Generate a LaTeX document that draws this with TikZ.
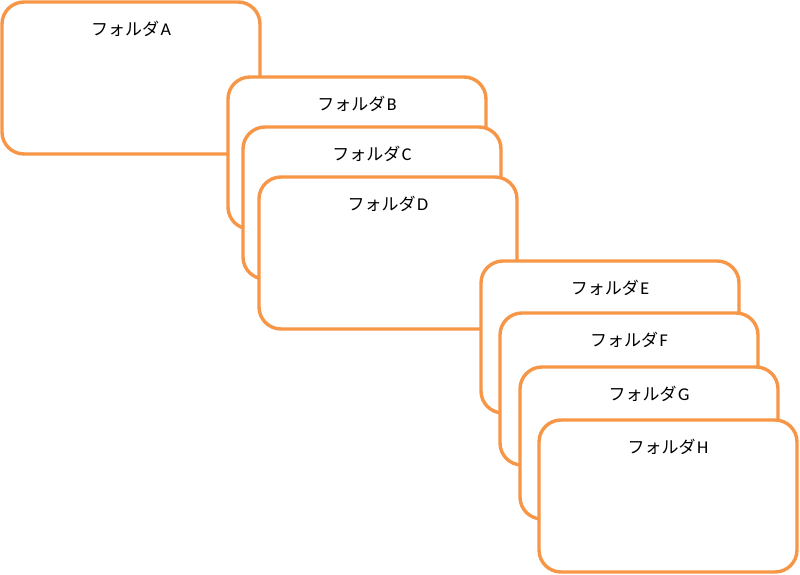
\documentclass[tikz,border=0pt]{standalone}
\usepackage{fontspec}
\setmainfont{Noto Sans CJK JP}
\newfontfamily\latf{Carlito}
\definecolor{folderorange}{HTML}{F79646}
\tikzset{
  folderbox/.style={draw=folderorange, line width=3.4pt, fill=white, rounded corners=22pt,
    minimum width=258pt, minimum height=152pt, anchor=north west, inner sep=0pt, outer sep=0pt},
  foldertitle/.style={anchor=center, yshift=-27pt, font=\fontsize{17}{19}\selectfont, text=black, inner sep=0pt}
}
\newcommand{\ftitle}[1]{フォルダ\kern1.5pt{\latf\fontsize{18}{19}\selectfont #1}}
\begin{document}
\begin{tikzpicture}[x=1pt,y=-1pt]
\useasboundingbox (0,0) rectangle (800,575);
\node[folderbox, label={[foldertitle]north:\ftitle{A}}] (A) at (2,2) {};
\node[folderbox, label={[foldertitle]north:\ftitle{B}}] (B) at (228,77) {};
\node[folderbox, label={[foldertitle]north:\ftitle{C}}] (C) at (243,127) {};
\node[folderbox, label={[foldertitle]north:\ftitle{D}}] (D) at (259,177) {};
\node[folderbox, label={[foldertitle]north:\ftitle{E}}] (E) at (481,261) {};
\node[folderbox, label={[foldertitle]north:\ftitle{F}}] (F) at (500,313) {};
\node[folderbox, label={[foldertitle]north:\ftitle{G}}] (G) at (520,367) {};
\node[folderbox, label={[foldertitle]north:\ftitle{H}}] (H) at (539,420) {};
\end{tikzpicture}
\end{document}
